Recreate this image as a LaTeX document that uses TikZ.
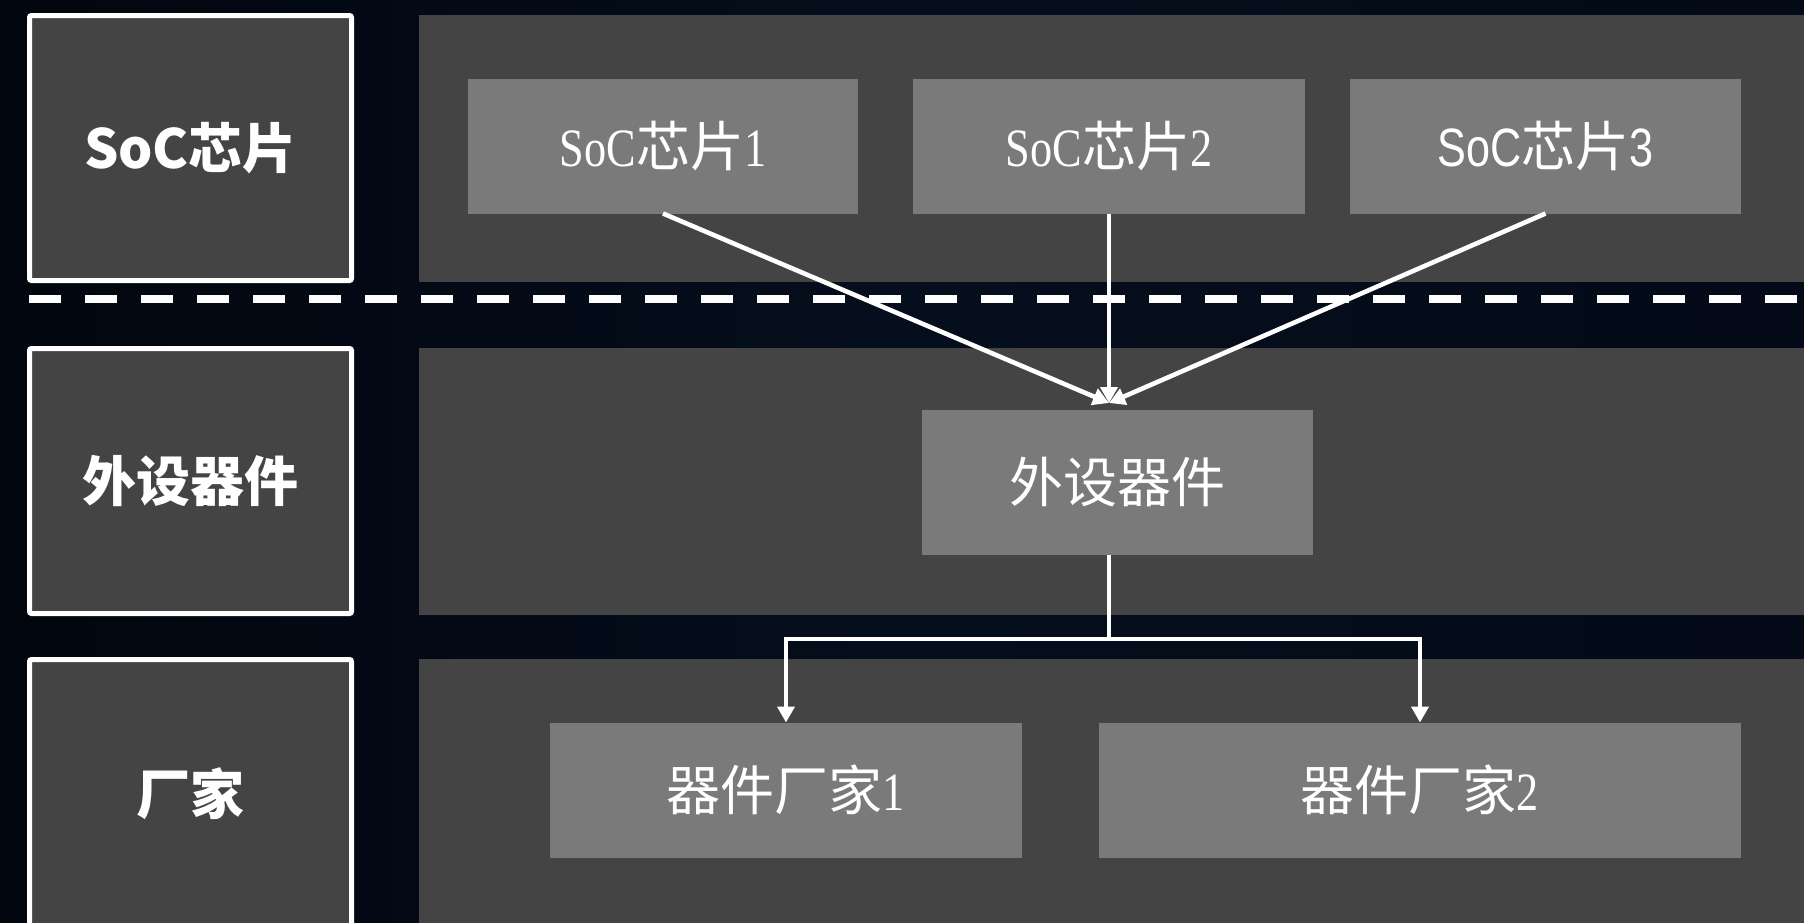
\documentclass[tikz,border=0pt]{standalone}
\usepackage{fontspec}
\usetikzlibrary{arrows.meta}
\newfontfamily\cjk{Noto Sans CJK SC}
\newfontfamily\nserif[FakeStretch=0.82]{Liberation Serif}
\newfontfamily\nsans[FakeStretch=0.8]{Liberation Sans}
\definecolor{bgL}{HTML}{02060E}
\definecolor{bgM}{HTML}{050E1D}
\definecolor{bgR}{HTML}{040A17}
\definecolor{panelgray}{HTML}{444444}
\definecolor{boxgray}{HTML}{7A7A7A}
\begin{document}
\begin{tikzpicture}[x=1pt,y=-1pt,
  labelbox/.style={draw=white,line width=5pt,fill=panelgray,rounded corners=2pt,inner sep=0pt,outer sep=0pt,text=white,
    minimum width=322pt,font=\cjk\bfseries\fontsize{54}{60}\selectfont},
  panel/.style={fill=panelgray,draw=none},
  innerbox/.style={fill=boxgray,draw=none,inner sep=0pt,outer sep=0pt,text=white,minimum height=135pt,
    font=\cjk\fontsize{54}{60}\selectfont},
  conn/.style={draw=white,line width=4.6pt},
  arr/.style={-{Triangle[length=16pt,width=17pt]}},
  sep/.style={draw=white,line width=8pt,dash pattern=on 32pt off 24pt}
]
\useasboundingbox (0,0) rectangle (1804,922);
\clip (0,0) rectangle (1804,922);
\shade[left color=bgL,right color=bgR,middle color=bgM] (0,0) rectangle (1804,922);

% panels
\path[panel] (419,15) rectangle (1820,282);
\path[panel] (419,348) rectangle (1820,615);
\path[panel] (419,659) rectangle (1820,931);

% label boxes
\node[labelbox,minimum height=265pt] (l1) at (190.5,148) {SoC芯片};
\node[labelbox,minimum height=265pt] (l2) at (190.5,481) {外设器件};
\node[labelbox,minimum height=269pt] (l3) at (190.5,794) {厂家};

% separator
\coordinate (dl) at (29,299);
\coordinate (dr) at (1810,299);
\draw[sep] (dl) -- (dr);

% SoC boxes
\node[innerbox,minimum width=390pt] (soc1) at (663,146) {{\nserif SoC}芯片{\nserif 1}};
\node[innerbox,minimum width=392pt] (soc2) at (1109,146) {{\nserif SoC}芯片{\nserif 2}};
\node[innerbox,minimum width=391pt] (soc3) at (1545.5,146) {{\nsans SoC}芯片{\nsans 3}};

% peripheral
\node[innerbox,minimum width=391pt,minimum height=145pt] (pd) at (1117.5,482.5) {外设器件};

% vendors
\node[innerbox,minimum width=472pt] (v1) at (786,790) {器件厂家{\nserif 1}};
\node[innerbox,minimum width=642pt] (v2) at (1420,790) {器件厂家{\nserif 2}};

% connectors
\coordinate (conv) at (1109,403);
\coordinate (split) at (1109,639);
\draw[conn,arr] (soc1.south) -- (conv);
\draw[conn,arr] (soc2.south) -- (conv);
\draw[conn,arr] (soc3.south) -- (conv);
\draw[conn] (pd.south -| split) -- (split);
\draw[conn,arr] (split) -| (v1.north);
\draw[conn,arr] (split) -| (v2.north);
\end{tikzpicture}
\end{document}
